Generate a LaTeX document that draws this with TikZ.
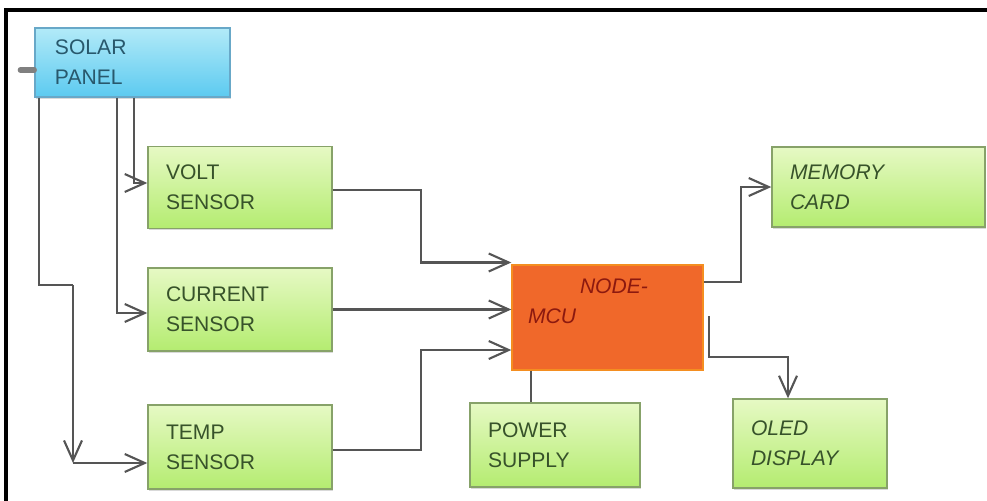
\documentclass[tikz,border=0pt]{standalone}
\usepackage{fontspec}
\setmainfont{Liberation Sans}
\usetikzlibrary{arrows.meta,positioning,calc,shadows}
\definecolor{wiregrey}{RGB}{85,85,85}
\definecolor{leaftop}{RGB}{230,249,196}
\definecolor{leafbot}{RGB}{180,236,112}
\definecolor{leafedge}{RGB}{135,162,105}
\definecolor{leaftext}{RGB}{55,82,42}
\definecolor{skytop}{RGB}{178,234,248}
\definecolor{skybot}{RGB}{92,202,240}
\definecolor{skyedge}{RGB}{104,168,200}
\definecolor{skytext}{RGB}{40,88,108}
\definecolor{mcuorange}{RGB}{240,104,42}
\definecolor{mcutext}{RGB}{140,25,15}

\begin{document}
\begin{tikzpicture}[>={Straight Barb[length=4mm,width=3.6mm]},
  font=\fontsize{12}{17}\selectfont,
  block/.style={rectangle, draw=leafedge, line width=0.8pt, top color=leaftop, bottom color=leafbot,
    text=leaftext, align=left, inner xsep=0.36cm,
    drop shadow={opacity=0.3, shadow xshift=0.8pt, shadow yshift=-1pt}},
  panelbox/.style={block, draw=skyedge, top color=skytop, bottom color=skybot, text=skytext, inner xsep=0.4cm},
  mcubox/.style={rectangle, draw=mcuorange!75!yellow, line width=0.8pt, fill=mcuorange, text=mcutext,
    align=left, inner xsep=0.32cm, font=\fontsize{12}{17}\selectfont\itshape},
  wire/.style={draw=wiregrey, line width=1.2pt}]
\useasboundingbox (0,0) rectangle (19.74,-10.02);
% frame
\draw[line width=1.8pt] (0.12,-10.02) -- (0.12,-0.2) -- (19.74,-0.2);

% blocks
\node[panelbox, text width=3.1cm, minimum height=1.38cm] (solar) at (2.65,-1.25) {SOLAR\\PANEL};
\node[block, text width=2.96cm, minimum height=1.64cm] (volt) at (4.8,-3.75) {VOLT\\SENSOR};
\node[block, text width=2.96cm, minimum height=1.66cm] (current) at (4.8,-6.19) {CURRENT\\SENSOR};
\node[block, text width=2.96cm, minimum height=1.68cm] (temp) at (4.8,-8.94) {TEMP\\SENSOR};
\node[mcubox, text width=3.18cm, minimum height=2.1cm, text depth=1.25cm] (mcu) at (12.15,-6.35)
  {\hspace*{1.04cm}NODE-\\MCU};
\node[block, text width=3.54cm, minimum height=1.6cm, font=\fontsize{12}{17}\selectfont\itshape] (memory) at (17.57,-3.74) {MEMORY\\CARD};
\node[block, text width=2.68cm, minimum height=1.68cm] (power) at (11.1,-8.9) {POWER\\SUPPLY};
\node[block, text width=2.36cm, minimum height=1.78cm, font=\fontsize{12}{17}\selectfont\itshape] (oled) at (16.2,-8.87) {OLED\\DISPLAY};

% panel stub
\draw[wire, draw=gray, line width=3pt, line cap=round] ([yshift=-0.15cm]solar.west) -- ++(-0.28,0);

% panel feeds
\draw[wire,->] ([xshift=2.0cm]solar.south west) |- ([yshift=0.09cm]volt.west);
\draw[wire,->] ([xshift=1.66cm]solar.south west) |- ([yshift=-0.07cm]current.west);
\coordinate (jog) at (1.46,-5.7);
\coordinate (drop) at (1.46,-9.26);
\draw[wire] ([xshift=0.1cm]solar.south west) |- (jog);
\draw[wire,->] (jog) -- (drop);
\draw[wire,->] (drop) -- (drop -| temp.west);

% sensors to mcu
\draw[wire,->] ([yshift=-0.05cm]volt.east) -- ++(1.76,0) |- ([yshift=1.1cm]mcu.west);
\draw[wire,->] (current.east) -- (current.east -| mcu.west);
\draw[wire,->] ([yshift=-0.06cm]temp.east) -- ++(1.76,0) |- ([yshift=-0.65cm]mcu.west);

% outputs
\draw[wire,->] ([yshift=0.71cm]mcu.east) -- ++(0.74,0) |- (memory.west);
\draw[wire,->] ([xshift=0.1cm,yshift=0.03cm]mcu.east) -- ++(0,-0.82) -| ([xshift=-0.44cm]oled.north);
\draw[wire] ([xshift=0.4cm]mcu.south west) -- ([xshift=0.4cm]mcu.south west |- power.north);
\end{tikzpicture}
\end{document}
